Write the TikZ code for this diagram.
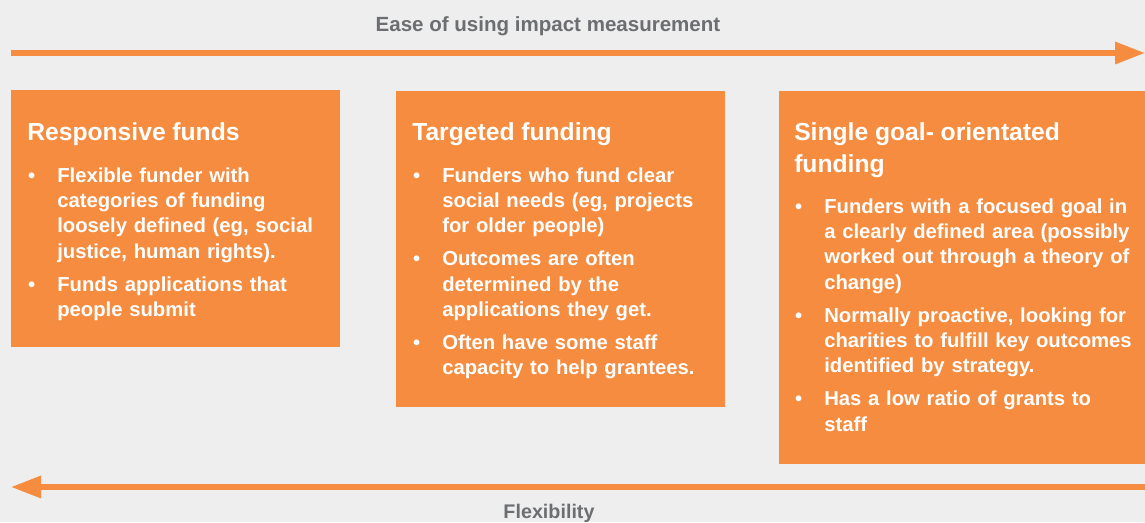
\documentclass[tikz,border=0pt]{standalone}
\usepackage{fontspec}
\setmainfont{Liberation Sans}
\usepackage{enumitem}
\usetikzlibrary{arrows.meta}
\definecolor{npcorange}{HTML}{F58C3F}
\definecolor{npcgrey}{HTML}{6D6E71}
\definecolor{npcpaper}{HTML}{EDEEED}
\setlist[itemize]{label=\textbullet,leftmargin=22.5pt,labelsep=16.5pt,topsep=12.5pt,
 itemsep=5.75pt,parsep=0pt,partopsep=0pt}
\newcommand\boxhead[1]{{\fontsize{18.5}{24}\selectfont #1\par}}
\tikzset{panel/.style={fill=npcorange,anchor=north west,inner sep=0pt},
 blurb/.style={anchor=base west,inner sep=0pt,text=white,align=left,
  font=\bfseries\fontsize{15.2}{19}\selectfont},
 axislabel/.style={anchor=base,inner sep=0pt,text=npcgrey,font=\bfseries\fontsize{15.4}{18}\selectfont},
 gauge/.style={line width=4pt,draw=npcorange,-{Triangle[length=22.5pt,width=16pt]}}}

\begin{document}
\begin{tikzpicture}[x=.75pt,y=-.75pt]
\useasboundingbox (0,0) rectangle (1145,522);
\fill[npcpaper](0,0)rectangle(1145,522);
% scales along top and bottom
\coordinate (easeL) at (11,53);\coordinate (easeR) at (1145,53);
\coordinate (flexR) at (1145,487);\coordinate (flexL) at (11,487);
\draw[gauge](easeL)--(easeR);
\draw[gauge](flexR)--(flexL);
\node[axislabel] (ease) at (548,31.5){Ease of using impact measurement};
\node[axislabel,font=\bfseries\fontsize{14.8}{18}\selectfont] (flex) at (549,518.5){Flexibility};
% the three kinds of funder
\node[panel,minimum width=246.75pt,minimum height=192.75pt] (resp) at (11,90){};
\node[panel,minimum width=246.75pt,minimum height=237pt] (targ) at (396,91){};
\node[panel,minimum width=274.5pt,minimum height=279.75pt] (goal) at (779,91){};
\node[blurb,text width=234pt] (respTxt) at (27,140){\boxhead{Responsive funds}
 \begin{itemize}
 \item Flexible funder with\\ categories of funding\\ loosely defined (eg, social\\ justice, human rights).
 \item Funds applications that\\ people submit
 \end{itemize}};
\node[blurb,text width=234pt] (targTxt) at (412,140){\boxhead{Targeted funding}
 \begin{itemize}
 \item Funders who fund clear\\ social needs (eg, projects\\ for older people)
 \item Outcomes are often\\ determined by the\\ applications they get.
 \item Often have some staff\\ capacity to help grantees.
 \end{itemize}};
\node[blurb,text width=263pt] (goalTxt) at (794,140){\boxhead{Single goal- orientated\\ funding}
 \begin{itemize}[topsep=11.75pt]
 \item Funders with a focused goal in\\ a clearly defined area (possibly\\ worked out through a theory of\\ change)
 \item Normally proactive, looking for\\ charities to fulfill key outcomes\\ identified by strategy.
 \item Has a low ratio of grants to\\ staff
 \end{itemize}};
\end{tikzpicture}
\end{document}
